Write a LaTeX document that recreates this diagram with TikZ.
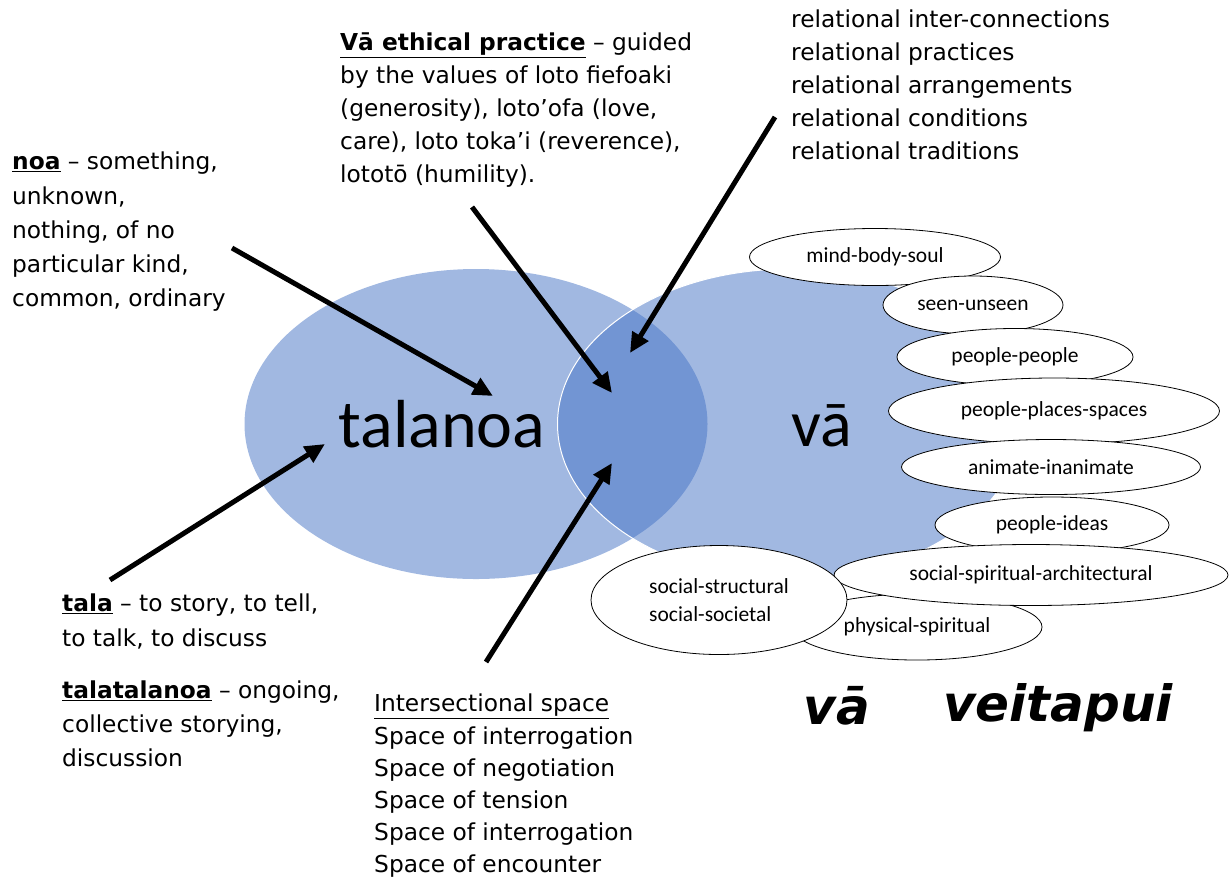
\documentclass[tikz,border=0pt]{standalone}
\usepackage{fontspec}
\setmainfont{DejaVu Sans}
\newfontfamily\calibri{Carlito}
\usetikzlibrary{shapes.geometric,arrows.meta}
\definecolor{vablue}{HTML}{4472C4}

\begin{document}
\begin{tikzpicture}[x=1pt,y=-1pt]
	\tikzstyle{every node}=[inner sep=0pt]
	\tikzstyle{circ}=[ellipse, fill=vablue, fill opacity=0.5, minimum width=463pt, minimum height=310pt]
	\tikzstyle{bubble}=[ellipse, draw, fill=white, line width=0.8pt, font=\calibri\fontsize{21.5}{28}\selectfont]
	\tikzstyle{gloss}=[anchor=north west, align=left, font=\fontsize{23.3}{33}\selectfont]
	\tikzstyle{pointer}=[line width=5pt, -{Triangle[length=20pt,width=18pt]}]
	\useasboundingbox (0,0) rectangle (1230,879);

	% the two spaces
	\node[circ] (tala-circ) at (476,424) {};
	\node[circ, draw=white, line width=1pt, draw opacity=1] (va-circ) at (789,424) {};
	\node[font=\calibri\fontsize{68}{68}\selectfont] (talanoa) at (442,424) {talanoa};
	\node[font=\calibri\fontsize{66}{66}\selectfont] (va) at (822,426) {vā};

	% relations of va
	\node[bubble, minimum width=251pt, minimum height=57pt] (mind) at (875,257) {mind-body-soul};
	\node[bubble, minimum width=180pt, minimum height=58pt] (seen) at (973,305) {seen-unseen};
	\node[bubble, minimum width=236pt, minimum height=57pt] (people) at (1015,357) {people-people};
	\node[bubble, minimum width=331pt, minimum height=66pt] (places) at (1054,411) {people-places-spaces};
	\node[bubble, minimum width=299pt, minimum height=55pt] (animate) at (1051,467) {animate-inanimate};
	\node[bubble, minimum width=234pt, minimum height=56pt] (ideas) at (1052,525) {people-ideas};
	\node[bubble, minimum width=250pt, minimum height=66pt] (physical) at (917,627) {physical-spiritual};
	\node[bubble, minimum width=394pt, minimum height=61pt] (architectural) at (1031,575) {social-spiritual-architectural};
	\node[bubble, minimum width=256pt, minimum height=109pt, align=left] (social) at (719,600) {social-structural\\social-societal};

	% glosses
	\node[gloss, font=\fontsize{23.3}{34.2}\selectfont] (noa) at (12,152) {\underline{\textbf{noa}} – something,\\unknown,\\nothing, of no\\particular kind,\\common, ordinary};
	\node[gloss] (ethics) at (340,33) {\underline{\textbf{Vā ethical practice}} – guided\\by the values of loto fiefoaki\\(generosity), loto’ofa (love,\\care), loto toka’i (reverence),\\lototō (humility).};
	\node[gloss] (relational) at (791,10) {relational inter-connections\\relational practices\\relational arrangements\\relational conditions\\relational traditions};
	\node[gloss, font=\fontsize{23.3}{35}\selectfont] (tala) at (62,594) {\underline{\textbf{tala}} – to story, to tell,\\to talk, to discuss};
	\node[gloss, font=\fontsize{23.3}{34}\selectfont] (talatalanoa) at (62,681) {\underline{\textbf{talatalanoa}} – ongoing,\\collective storying,\\discussion};
	\node[gloss, font=\fontsize{23.3}{32.2}\selectfont] (intersection) at (374,694) {\underline{Intersectional space}\\Space of interrogation\\Space of negotiation\\Space of tension\\Space of interrogation\\Space of encounter};

	\node[font=\fontsize{50}{50}\selectfont\bfseries\itshape] (va-title) at (837,706) {vā};
	\node[font=\fontsize{50}{50}\selectfont\bfseries\itshape] (veitapui) at (1058,708) {veitapui};

	% arrows
	\coordinate (noa-tail) at (232,248);
	\coordinate (noa-tip) at (493,396);
	\coordinate (tala-tail) at (110,580);
	\coordinate (tala-tip) at (325,444);
	\coordinate (ethics-tail) at (472,207);
	\coordinate (ethics-tip) at (612,393);
	\coordinate (relational-tail) at (775,117);
	\coordinate (relational-tip) at (630,353);
	\coordinate (intersection-tail) at (486,662);
	\coordinate (intersection-tip) at (612,463);
	\draw[pointer] (noa-tail) -- (noa-tip);
	\draw[pointer] (tala-tail) -- (tala-tip);
	\draw[pointer] (ethics-tail) -- (ethics-tip);
	\draw[pointer] (relational-tail) -- (relational-tip);
	\draw[pointer] (intersection-tail) -- (intersection-tip);
\end{tikzpicture}
\end{document}
